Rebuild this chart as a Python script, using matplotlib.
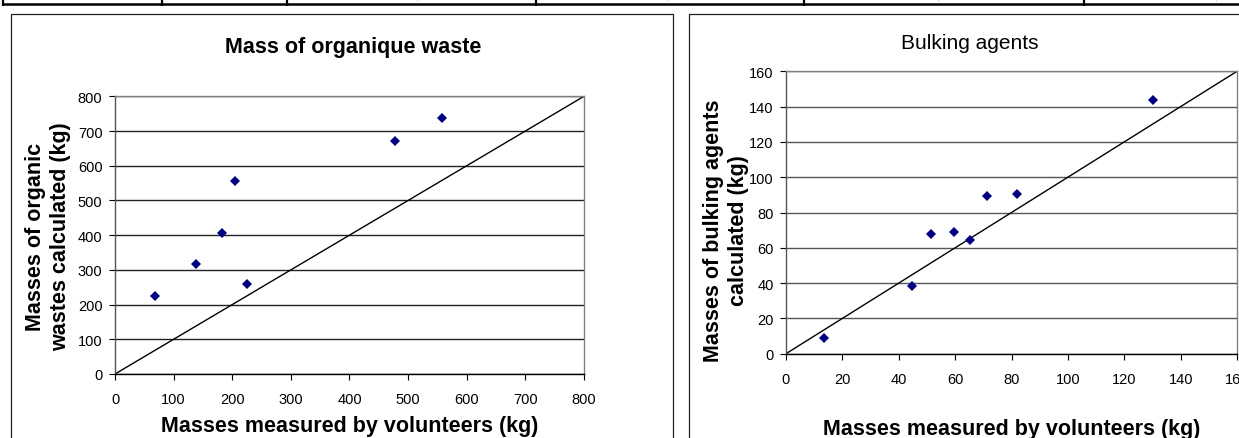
import numpy as np
import matplotlib
matplotlib.use('Agg')
import matplotlib.pyplot as plt
from matplotlib.lines import Line2D

plt.rcParams['font.family'] = ['Liberation Sans', 'DejaVu Sans']

# organic waste: measured by volunteers vs calculated (kg)
organicMeasured = [68, 138, 183, 205, 226, 477, 558]
organicCalculated = [224, 316, 405, 556, 259, 672, 737]
organicTicks = [0, 100, 200, 300, 400, 500, 600, 700, 800]

# bulking agents: measured by volunteers vs calculated (kg)
bulkMeasured = [13.5, 44.6, 51.4, 59.5, 65.3, 71.2, 82.1, 130.1]
bulkCalculated = [8.7, 38.5, 67.8, 68.8, 64.6, 89.2, 90.7, 143.7]
bulkTicks = [0, 20, 40, 60, 80, 100, 120, 140, 160]

W, H = 1239, 439
fig = plt.figure(figsize=(W / 100.0, H / 100.0), dpi=100)


def fx(x):
    return x / float(W)


def fy(y):
    return 1 - y / float(H)


def pxline(xs, ys, lw=1.0, color='black'):
    fig.add_artist(Line2D([fx(x) for x in xs], [fy(y) for y in ys],
                          transform=fig.transFigure, lw=lw, color=color,
                          solid_capstyle='butt'))


# piece of the table above the charts
pxline([3, W], [5, 5], lw=1.8)
for x in [3, 162, 287, 536, 804, 1084]:
    pxline([x, x], [0, 7], lw=1.6)
for x in [417, 668, 938, 1216]:
    pxline([x, x], [0, 2], lw=0.6, color='#c8c8c8')

# chart frames
pxline([10.5, 10.5, 673, 673], [H, 15, 15, H], lw=0.9, color='#222222')
pxline([689, 689, W + 5], [H, 15, 15], lw=0.9, color='#222222')


def makeAxes(left, top, right, bottom, ticks, gridColor):
    ax = fig.add_axes([fx(left), fy(bottom), fx(right) - fx(left), (bottom - top) / float(H)])
    ax.set_xlim(ticks[0], ticks[-1])
    ax.set_ylim(ticks[0], ticks[-1])
    ax.set_xticks(ticks)
    ax.set_yticks(ticks)
    ax.yaxis.grid(True, color=gridColor, lw=1.0)
    ax.set_axisbelow(True)
    ax.spines['top'].set_color('#808080')
    ax.spines['right'].set_color('#808080')
    ax.spines['left'].set_color('#555555')
    ax.spines['bottom'].set_color('black')
    for s in ax.spines.values():
        s.set_linewidth(1.0)
    ax.tick_params(axis='x', direction='out', length=4, width=0.8, pad=9, labelsize=10.5)
    ax.tick_params(axis='y', direction='out', length=4, width=0.8, pad=5, labelsize=10.5)
    ax.plot([ticks[0], ticks[-1]], [ticks[0], ticks[-1]], color='black', lw=1.0)
    return ax


ax1 = makeAxes(115, 97.3, 584, 375, organicTicks, '#222222')
ax1.plot(organicMeasured, organicCalculated, 'D', color='#000080', ms=4.8, mew=0)

ax2 = makeAxes(786, 72.3, 1237, 354.7, bulkTicks, '#555555')
ax2.plot(bulkMeasured, bulkCalculated, 'D', color='#000080', ms=4.8, mew=0)

# titles and axis labels
fig.text(fx(353), fy(53), 'Mass of organique waste', ha='center', va='baseline',
         fontsize=15.5, fontweight='bold')
fig.text(fx(970), fy(49), 'Bulking agents', ha='center', va='baseline', fontsize=15)

fig.text(fx(349.5), fy(432), 'Masses measured by volunteers (kg)', ha='center', va='baseline',
         fontsize=15.5, fontweight='bold')
fig.text(fx(1012), fy(435), 'Masses measured by volunteers (kg)', ha='center', va='baseline',
         fontsize=15.5, fontweight='bold')

fig.text(fx(48), fy(236.5), 'Masses of organic\nwastes calculated (kg)', rotation=90,
         ha='center', va='center', multialignment='center', linespacing=1.2,
         fontsize=15.5, fontweight='bold')
fig.text(fx(726), fy(231), 'Masses of bulking agents\ncalculated (kg)', rotation=90,
         ha='center', va='center', multialignment='center', linespacing=1.2,
         fontsize=15.5, fontweight='bold')

fig.savefig('out.png', dpi=100)
